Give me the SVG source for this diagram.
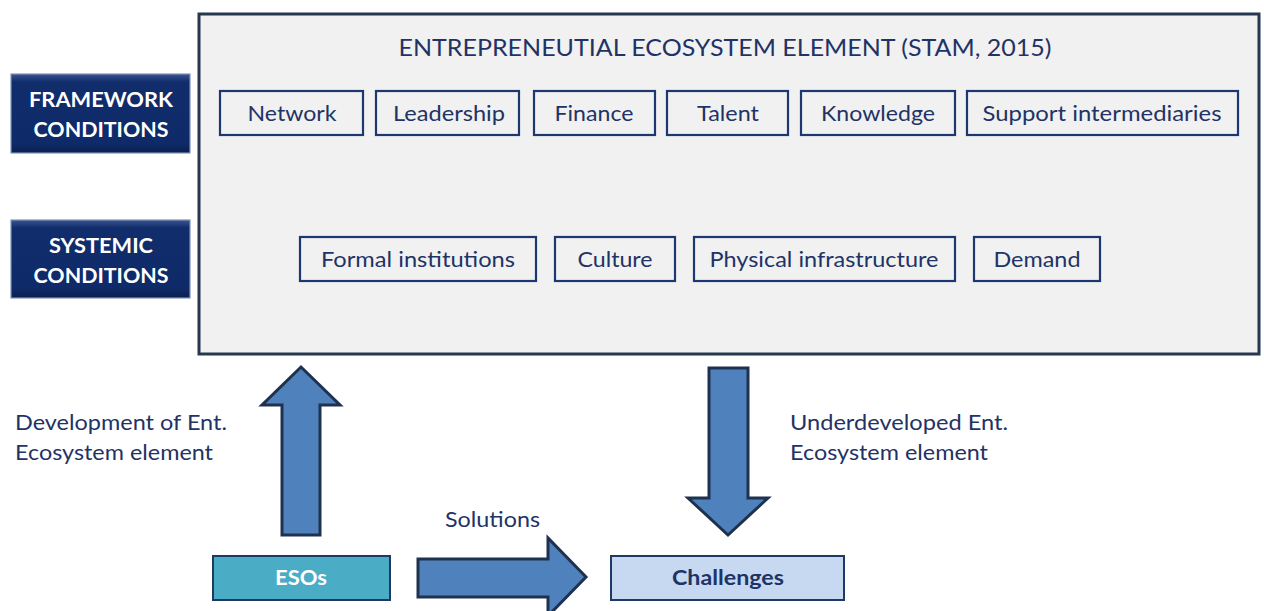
<svg xmlns="http://www.w3.org/2000/svg" width="1264" height="611" viewBox="0 0 1264 611">
  <defs>
    <linearGradient id="bevelV" x1="0" y1="0" x2="0" y2="1">
      <stop offset="0" stop-color="#3a5590"/>
      <stop offset="0.1" stop-color="#112d6c"/>
      <stop offset="0.88" stop-color="#0f2a68"/>
      <stop offset="1" stop-color="#0a1f50"/>
    </linearGradient>
    <style>
      text { font-family: Lato, "Liberation Sans", sans-serif; }
      .el rect { fill: none; stroke: #1d3770; stroke-width: 2.2; }
      .el text { fill: #1f3366; font-size: 22px; text-anchor: middle; }
      .cond rect { fill: url(#bevelV); stroke: #7f95b8; stroke-width: 1.2; }
      .cond text { fill: #ffffff; font-size: 21px; font-weight: bold; text-anchor: middle; }
      .lbl { fill: #1f3366; font-size: 22px; }
      .arrow { fill: #4f81bd; stroke: #1e324f; stroke-width: 3; stroke-linejoin: miter; }
    </style>
  </defs>

  <rect width="1264" height="611" fill="#ffffff"/>

  <!-- ecosystem container -->
  <g id="ecosystem">
    <rect x="199" y="14" width="1060" height="340" fill="#f1f1f1" stroke="#25384f" stroke-width="3"/>
    <text x="725" y="56" fill="#1f3366" font-size="24" text-anchor="middle" textLength="653" lengthAdjust="spacingAndGlyphs">ENTREPRENEUTIAL ECOSYSTEM ELEMENT (STAM, 2015)</text>
  </g>

  <!-- framework condition elements -->
  <g id="network" class="el"><rect x="220" y="91" width="143" height="44"/><text x="292" y="121" textLength="89" lengthAdjust="spacingAndGlyphs">Network</text></g>
  <g id="leadership" class="el"><rect x="376" y="91" width="143" height="44"/><text x="449" y="121" textLength="112" lengthAdjust="spacingAndGlyphs">Leadership</text></g>
  <g id="finance" class="el"><rect x="534" y="91" width="121" height="44"/><text x="594" y="121" textLength="79" lengthAdjust="spacingAndGlyphs">Finance</text></g>
  <g id="talent" class="el"><rect x="667" y="91" width="121" height="44"/><text x="728" y="121" textLength="62" lengthAdjust="spacingAndGlyphs">Talent</text></g>
  <g id="knowledge" class="el"><rect x="801" y="91" width="154" height="44"/><text x="878" y="121" textLength="114" lengthAdjust="spacingAndGlyphs">Knowledge</text></g>
  <g id="support" class="el"><rect x="967" y="91" width="271" height="44"/><text x="1102" y="121" textLength="239" lengthAdjust="spacingAndGlyphs">Support intermediaries</text></g>

  <!-- systemic condition elements -->
  <g id="formal" class="el"><rect x="300" y="237" width="236" height="44"/><text x="418" y="267" textLength="194" lengthAdjust="spacingAndGlyphs">Formal institutions</text></g>
  <g id="culture" class="el"><rect x="555" y="237" width="120" height="44"/><text x="615" y="267" textLength="75" lengthAdjust="spacingAndGlyphs">Culture</text></g>
  <g id="infrastructure" class="el"><rect x="694" y="237" width="261" height="44"/><text x="824" y="267" textLength="229" lengthAdjust="spacingAndGlyphs">Physical infrastructure</text></g>
  <g id="demand" class="el"><rect x="974" y="237" width="126" height="44"/><text x="1037" y="267" textLength="87" lengthAdjust="spacingAndGlyphs">Demand</text></g>

  <!-- condition labels -->
  <g id="framework" class="cond">
    <rect x="11" y="74" width="179" height="79"/>
    <text x="101" y="107" textLength="144" lengthAdjust="spacingAndGlyphs">FRAMEWORK</text>
    <text x="101" y="137" textLength="135" lengthAdjust="spacingAndGlyphs">CONDITIONS</text>
  </g>
  <g id="systemic" class="cond">
    <rect x="11" y="220" width="179" height="78"/>
    <text x="101" y="253" textLength="104" lengthAdjust="spacingAndGlyphs">SYSTEMIC</text>
    <text x="101" y="283" textLength="135" lengthAdjust="spacingAndGlyphs">CONDITIONS</text>
  </g>

  <!-- bottom nodes -->
  <g id="esos">
    <rect x="213" y="556" width="177" height="44" fill="#4bacc6" stroke="#1f3864" stroke-width="2"/>
    <text x="301" y="585" fill="#ffffff" font-size="20" font-weight="bold" text-anchor="middle" textLength="52" lengthAdjust="spacingAndGlyphs">ESOs</text>
  </g>
  <g id="challenges">
    <rect x="611" y="556" width="233" height="44" fill="#c6d9f1" stroke="#1f3864" stroke-width="2"/>
    <text x="728" y="585" fill="#1f3366" font-size="20" font-weight="bold" text-anchor="middle" textLength="112" lengthAdjust="spacingAndGlyphs">Challenges</text>
  </g>

  <!-- connectors -->
  <g id="connectors">
    <polygon class="arrow" points="282,535 282,405 262,405 301,367 340,405 320,405 320,535"/>
    <polygon class="arrow" points="709,368 748,368 748,498 768,498 728,535 688,498 709,498"/>
    <polygon class="arrow" points="418,559 548,559 548,538 586,577 548,616 548,597 418,597"/>
    <text class="lbl" x="15" y="430" textLength="212" lengthAdjust="spacingAndGlyphs">Development of Ent.</text>
    <text class="lbl" x="15" y="460" textLength="198" lengthAdjust="spacingAndGlyphs">Ecosystem element</text>
    <text class="lbl" x="790" y="430" textLength="218" lengthAdjust="spacingAndGlyphs">Underdeveloped Ent.</text>
    <text class="lbl" x="790" y="460" textLength="198" lengthAdjust="spacingAndGlyphs">Ecosystem element</text>
    <text class="lbl" x="445" y="527" textLength="95" lengthAdjust="spacingAndGlyphs">Solutions</text>
  </g>
</svg>
